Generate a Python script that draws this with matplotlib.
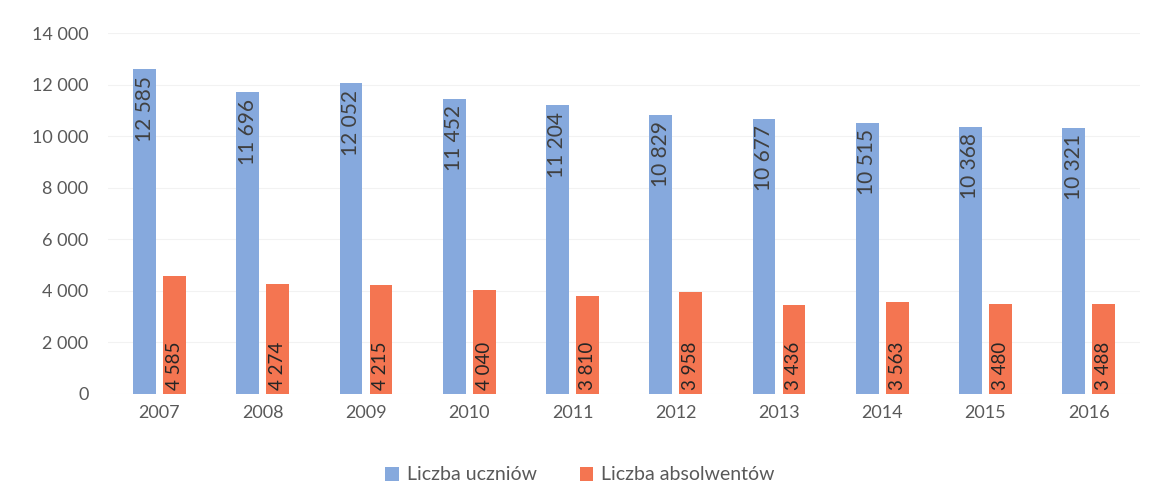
import numpy as np
import matplotlib.pyplot as plt

# Liczba uczniów i absolwentów w latach 2007-2016
lata = ['2007', '2008', '2009', '2010', '2011', '2012', '2013', '2014', '2015', '2016']
uczniowie = [12585, 11696, 12052, 11452, 11204, 10829, 10677, 10515, 10368, 10321]
absolwenci = [4585, 4274, 4215, 4040, 3810, 3958, 3436, 3563, 3480, 3488]

kolor_uczn = '#86A9DD'
kolor_abs = '#F47551'

plt.rcParams['font.family'] = ['Lato', 'DejaVu Sans']

fig = plt.figure(figsize=(11.6, 5.01), dpi=100)
ax = fig.add_axes([0.093, 0.2136, 0.89, 0.7205])

x = np.arange(len(lata))
w = 0.22
off = 0.145

b1 = ax.bar(x - off, uczniowie, w, color=kolor_uczn, label='Liczba uczniów', zorder=2)
b2 = ax.bar(x + off, absolwenci, w, color=kolor_abs, label='Liczba absolwentów', zorder=2)

def fmt(v):
    return f'{v:,}'.replace(',', ' ')

# etykiety wartości w pionie
for xi, v in zip(x, uczniowie):
    ax.text(xi - off, v - 250, fmt(v), rotation=90, ha='center', va='top',
            fontsize=15, color='#404040', zorder=3)
for xi, v in zip(x, absolwenci):
    ax.text(xi + off, 150, fmt(v), rotation=90, ha='center', va='bottom',
            fontsize=13.5, color='#262626', zorder=3)

ax.set_xlim(-0.5, len(lata) - 0.5)
ax.set_ylim(0, 14000)
ax.set_yticks(np.arange(0, 14001, 2000))
ax.set_yticklabels([fmt(t) for t in range(0, 14001, 2000)])
ax.set_xticks(x)
ax.set_xticklabels(lata)
ax.tick_params(axis='x', length=0, labelsize=13, colors='#595959', pad=8)
ax.tick_params(axis='y', length=0, labelsize=13, colors='#595959', pad=14)

ax.grid(axis='y', color='#F2F2F2', linewidth=0.8, zorder=0)
for s in ax.spines.values():
    s.set_visible(False)

fig.legend(handles=[b1, b2], loc='lower center', bbox_to_anchor=(0.5, 0.0),
           ncol=2, frameon=False, fontsize=14, handlelength=0.7,
           handleheight=0.7, columnspacing=2.2, handletextpad=0.4,
           labelcolor='#595959')

fig.savefig('out.png', dpi=100, facecolor='white')
